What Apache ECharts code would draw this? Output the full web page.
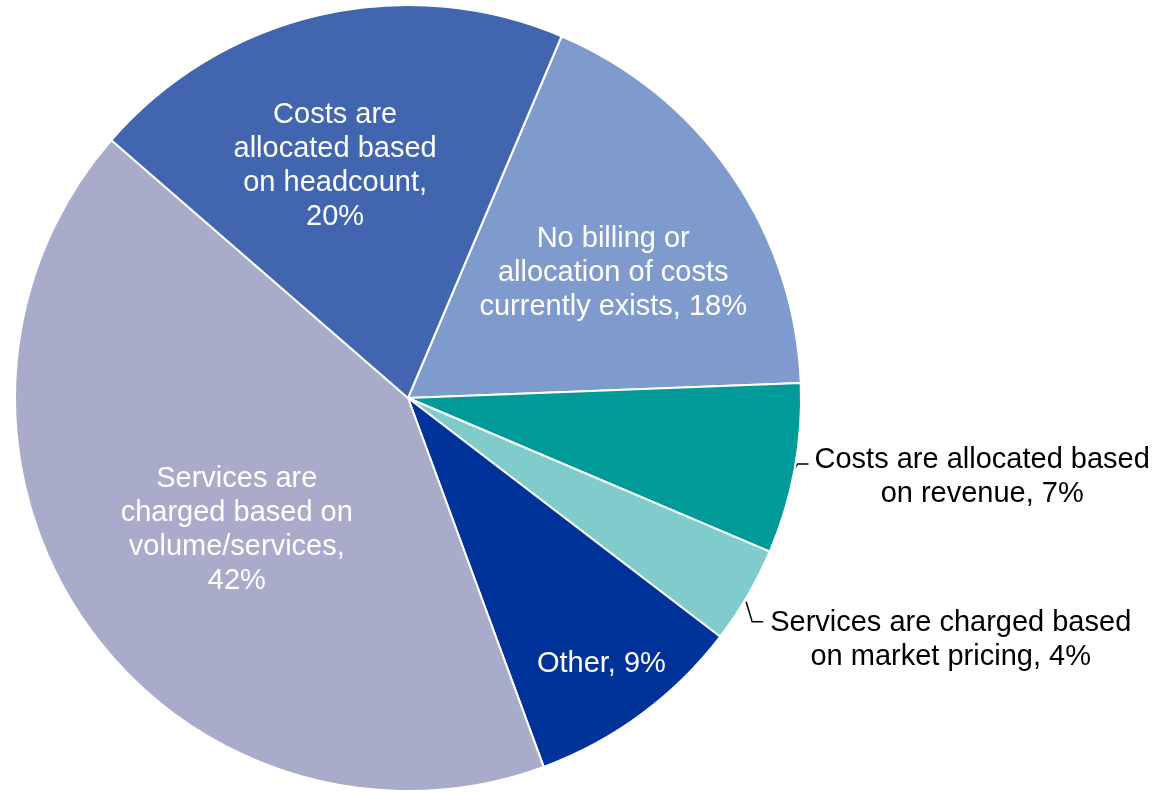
<!DOCTYPE html>
<html>
<head>
<meta charset="utf-8">
<title>Cost allocation methods</title>
<script src="https://cdn.jsdelivr.net/npm/echarts@6/dist/echarts.min.js"></script>
<style>
  html, body { margin: 0; padding: 0; background: #ffffff; }
  #chart { width: 1161px; height: 793px; }
</style>
</head>
<body>
<div id="chart"></div>
<script>
// Slices in clockwise order, starting just right of twelve o'clock
const categories = [
  'No billing or allocation of costs currently exists',
  'Costs are allocated based on revenue',
  'Services are charged based on market pricing',
  'Other',
  'Services are charged based on volume/services',
  'Costs are allocated based on headcount'
];
const shares = [18, 7, 4, 9, 42, 20];
const labelTexts = [
  'No billing or\nallocation of costs\ncurrently exists, 18%',
  'Costs are allocated based\non revenue, 7%',
  'Services are charged based\non market pricing, 4%',
  'Other, 9%',
  'Services are\ncharged based on\nvolume/services,\n42%',
  'Costs are\nallocated based\non headcount,\n20%'
];
const sliceColors = ['#7F9ACC', '#009A99', '#80CCCC', '#003399', '#A9ABCA', '#4166AF'];
const outsideLabel = [false, true, true, false, false, false];

// Pixel nudges for labels sitting inside their slices
const insideShift = {
  0: [41, -12],
  3: [75, 105],
  4: [-7, 19],
  5: [-28, -38]
};
// Leader line shapes for the two small slices (relative to the slice edge anchor)
const leaderShape = {
  1: { start: [0, 0], elbow: [3, -5], run: 11, gap: 6, drop: 13 },
  2: { start: [-1.5, 6], elbow: [4.5, 26], run: 11, gap: 7, drop: 18 }
};

const chart = echarts.init(document.getElementById('chart'), null, { renderer: 'canvas' });

const data = categories.map(function (name, i) {
  return {
    name: name,
    value: shares[i],
    itemStyle: { color: sliceColors[i] },
    label: {
      position: outsideLabel[i] ? 'outside' : 'inside',
      color: outsideLabel[i] ? '#000000' : '#ffffff'
    },
    labelLine: { show: outsideLabel[i] }
  };
});

chart.setOption({
  backgroundColor: '#ffffff',
  animation: false,
  series: [{
    type: 'pie',
    center: [408, 398],
    radius: 393,
    startAngle: 67,
    clockwise: true,
    avoidLabelOverlap: false,
    minShowLabelAngle: 0,
    itemStyle: { borderColor: '#ffffff', borderWidth: 2 },
    label: {
      show: true,
      fontFamily: '"Liberation Sans", Arial, sans-serif',
      fontSize: 29,
      lineHeight: 34,
      align: 'center',
      formatter: function (p) { return labelTexts[p.dataIndex]; }
    },
    labelLine: {
      show: true,
      length: 8,
      length2: 10,
      lineStyle: { color: '#000000', width: 1.5 }
    },
    labelLayout: function (p) {
      const i = p.dataIndex;
      if (outsideLabel[i] && p.labelLinePoints) {
        const s = leaderShape[i];
        const p0 = p.labelLinePoints[0];
        const a = [p0[0] + s.start[0], p0[1] + s.start[1]];
        const b = [p0[0] + s.elbow[0], p0[1] + s.elbow[1]];
        const c = [b[0] + s.run, b[1]];
        return {
          x: c[0] + s.gap + p.labelRect.width / 2,
          y: c[1] + s.drop,
          align: 'center',
          verticalAlign: 'middle',
          labelLinePoints: [a, b, c]
        };
      }
      const d = insideShift[i] || [0, 0];
      return { dx: d[0], dy: d[1] };
    },
    emphasis: { disabled: true },
    data: data
  }]
});
</script>
</body>
</html>
